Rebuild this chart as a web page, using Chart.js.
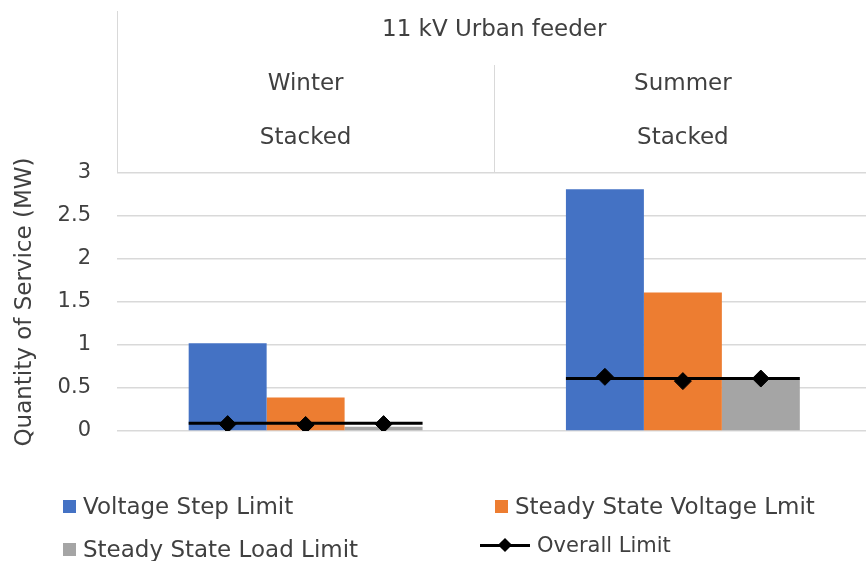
<!DOCTYPE html>
<html>
<head>
<meta charset="utf-8">
<script src="https://cdn.jsdelivr.net/npm/chart.js@4.4.0/dist/chart.umd.min.js"></script>
<style>
  html, body { margin: 0; padding: 0; background: #fff; overflow: hidden; }
  #wrap { position: relative; width: 881px; height: 561px; }
  #legend { position: absolute; left: 0; top: 0; width: 866px; height: 561px; pointer-events: none;
            font-family: 'DejaVu Sans', sans-serif; font-size: 23px; color: #404040; }
  .item { position: absolute; display: flex; align-items: center; height: 30px; white-space: nowrap; }
  .box { width: 13px; height: 13px; margin-right: 7px; }
  .lineicon { position: relative; width: 50px; height: 16px; margin-right: 7px; }
  .lineicon .ln { position: absolute; left: 0; right: 0; top: 6.5px; height: 3px; background: #000; }
  .lineicon .dm { position: absolute; left: 20px; top: 3px; width: 10px; height: 10px; background: #000; transform: rotate(45deg); }
</style>
</head>
<body>
<div id="wrap">
  <canvas id="chart" width="881" height="561"></canvas>
  <div id="legend"></div>
</div>
<script>
const groups = ['Winter', 'Summer'];
const subLabel = 'Stacked';
const feeder = '11 kV Urban feeder';
const yTicks = [0, 0.5, 1, 1.5, 2, 2.5, 3];

const voltageStep = [1.02, 2.81];
const steadyVoltage = [0.39, 1.61];
const steadyLoad = [0.05, 0.60];
// overall limit: level of the line per group, and one diamond per bar
const overallLine = [0.09, 0.61];
const overallPoints = [0.08, 0.07, 0.08, 0.63, 0.58, 0.61];

const colors = ['#4472C4', '#ED7D31', '#A5A5A5'];
const barNames = ['Voltage Step Limit', 'Steady State Voltage Lmit', 'Steady State Load Limit'];
const groupWidth = 0.62;   // share of the category taken by the bars

// everything sits on one linear x axis: group i is centred on x = i
const toPoints = arr => arr.map((v, i) => ({ x: i, y: v }));
const lineData = [];
groups.forEach((g, i) => {
    lineData.push({ x: i - groupWidth / 2, y: overallLine[i] });
    lineData.push({ x: i + groupWidth / 2, y: overallLine[i] });
    lineData.push({ x: i + 0.5, y: null });
});
const pointData = overallPoints.map((v, k) => {
    const i = Math.floor(k / 3);
    const j = k % 3;
    return { x: i + (j - 1) * groupWidth / 3, y: v };
});

Chart.defaults.font.family = "'DejaVu Sans', sans-serif";
Chart.defaults.color = '#404040';

const headerLines = {
    id: 'headerLines',
    afterDraw(chart) {
        const ctx = chart.ctx;
        const top = chart.chartArea.top;
        const left = Math.round(chart.chartArea.left) + 0.5;
        ctx.save();
        ctx.strokeStyle = '#D9D9D9';
        ctx.lineWidth = 1;
        ctx.beginPath();
        ctx.moveTo(left, 11);
        ctx.lineTo(left, top);
        for (let i = 0; i < groups.length - 1; i++) {
            const mid = Math.round(chart.scales.x.getPixelForValue(i + 0.5)) + 0.5;
            ctx.moveTo(mid, 65);
            ctx.lineTo(mid, top);
        }
        ctx.stroke();
        ctx.restore();
    }
};

const ctx = document.getElementById('chart').getContext('2d');
new Chart(ctx, {
    data: {
        datasets: [
            { type: 'bar', label: barNames[0], data: toPoints(voltageStep), backgroundColor: colors[0], order: 2 },
            { type: 'bar', label: barNames[1], data: toPoints(steadyVoltage), backgroundColor: colors[1], order: 2 },
            { type: 'bar', label: barNames[2], data: toPoints(steadyLoad), backgroundColor: colors[2], order: 2 },
            { type: 'line', label: 'Overall Limit', data: lineData,
              borderColor: '#000', borderWidth: 3, pointRadius: 0, spanGaps: false, order: 1 },
            { type: 'line', label: 'Overall Limit points', data: pointData,
              showLine: false, pointStyle: 'rectRot', pointRadius: 8.5, pointBackgroundColor: '#000',
              pointBorderColor: '#000', pointBorderWidth: 1, order: 0 }
        ]
    },
    options: {
        responsive: false,
        animation: false,
        layout: { padding: { top: 10, left: 0, right: 0, bottom: 130 } },
        datasets: { bar: { categoryPercentage: groupWidth, barPercentage: 1, borderWidth: 0 } },
        plugins: { legend: { display: false }, tooltip: { enabled: false } },
        scales: {
            x: {
                type: 'linear',
                position: 'top',
                offset: false,
                min: -0.5,
                max: groups.length - 0.5,
                afterBuildTicks(scale) { scale.ticks = groups.map((g, i) => ({ value: i })); },
                grid: { display: false, offset: false },
                border: { display: false },
                ticks: {
                    padding: 0, maxRotation: 0,
                    font: { size: 23, lineHeight: 54 / 23 },
                    callback: v => [groups[v], subLabel]
                },
                title: { display: true, text: feeder, font: { size: 23 }, padding: { top: 6, bottom: 0 } },
                afterFit(scale) { scale.height = 163; }
            },
            y: {
                min: 0, max: 3,
                afterBuildTicks(scale) { scale.ticks = yTicks.map(v => ({ value: v })); },
                grid: { color: '#D9D9D9', lineWidth: 1.5, drawTicks: false },
                border: { display: false },
                ticks: { padding: 26, font: { size: 21 }, callback: v => String(v) },
                title: { display: true, text: 'Quantity of Service (MW)', font: { size: 23 }, padding: { top: 11, bottom: 0 } },
                afterFit(scale) { scale.width = 117; }
            }
        }
    },
    plugins: [headerLines]
});

// legend in two columns, like the original
const legendItems = [
    { text: barNames[0], color: colors[0], left: 63, top: 491 },
    { text: barNames[1], color: colors[1], left: 495, top: 491 },
    { text: barNames[2], color: colors[2], left: 63, top: 534 },
    { text: 'Overall Limit', line: true, left: 480, top: 530 }
];
const legend = document.getElementById('legend');
legendItems.forEach(it => {
    const d = document.createElement('div');
    d.className = 'item';
    d.style.left = it.left + 'px';
    d.style.top = it.top + 'px';
    if (it.line) {
        d.innerHTML = '<span class="lineicon"><span class="ln"></span><span class="dm"></span></span>';
        d.style.fontSize = '21px';
    } else {
        d.innerHTML = '<span class="box" style="background:' + it.color + '"></span>';
    }
    d.appendChild(document.createTextNode(it.text));
    legend.appendChild(d);
});
</script>
</body>
</html>
